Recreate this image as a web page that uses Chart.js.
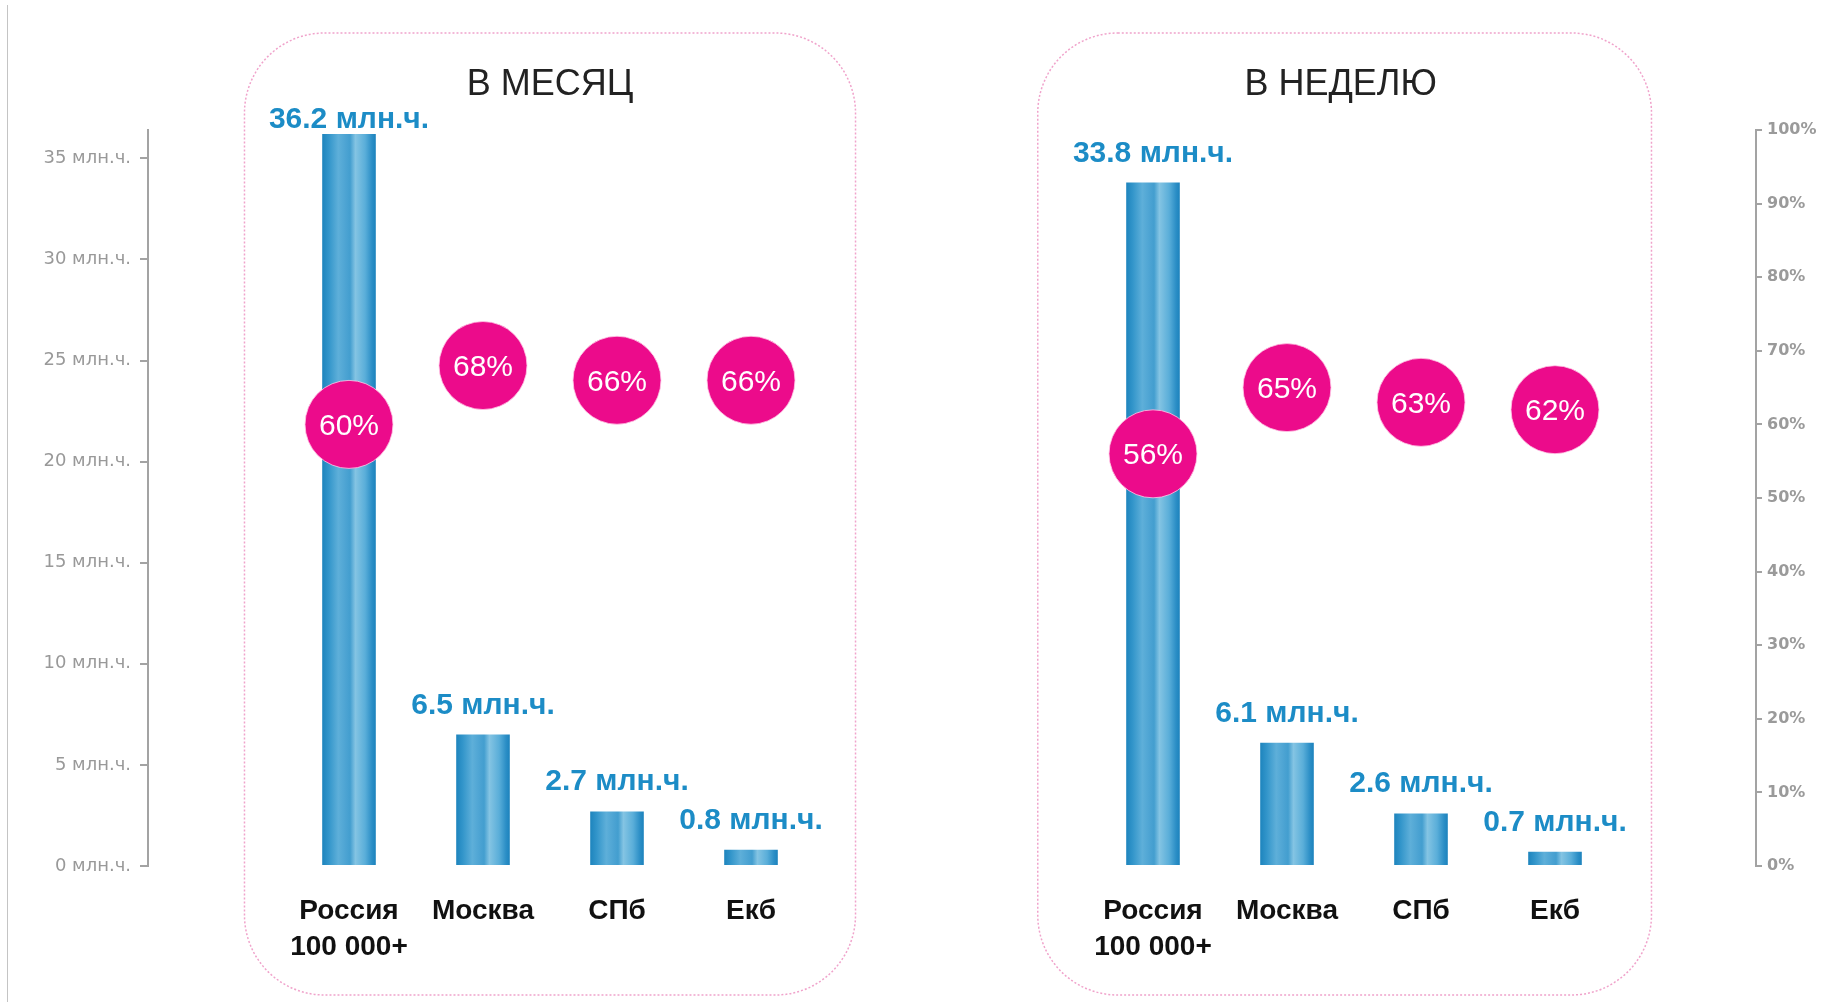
<!DOCTYPE html>
<html>
<head>
<meta charset="utf-8">
<style>
body { margin: 0; background: #fff; }
#wrap { position: relative; width: 1832px; height: 1002px; }
#edge { position: absolute; left: 7px; top: 5px; width: 1px; height: 997px; background: #c4c4c4; }
</style>
</head>
<body>
<script src="https://cdn.jsdelivr.net/npm/chart.js@4.4.0/dist/chart.umd.min.js"></script>
<div id="wrap"><canvas id="myChart"></canvas><div id="edge"></div></div>
<script>
const cities = [['Россия', '100 000+'], 'Москва', 'СПб', 'Екб'];
const panelTitles = ['В МЕСЯЦ', 'В НЕДЕЛЮ'];
const monthHours = [36.2, 6.5, 2.7, 0.8];
const weekHours = [33.8, 6.1, 2.6, 0.7];
const monthShare = [60, 68, 66, 66];
const weekShare = [56, 65, 63, 62];
const hourTicks = [0, 5, 10, 15, 20, 25, 30, 35];
const shareTicks = [0, 10, 20, 30, 40, 50, 60, 70, 80, 90, 100];
const unit = ' млн.ч.';

// одна общая ось x: пусто, 4 города (месяц), 2 пустых, 4 города (неделя), пусто
const labels = [''].concat(cities, ['', ''], cities, ['']);
const hours = [null].concat(monthHours, [null, null], weekHours, [null]);
const shares = [null].concat(monthShare, [null, null], weekShare, [null]);
// [первая категория, последняя, запас слева, запас справа] в долях ширины категории
const panelRanges = [[1, 4, 0.78, 0.78], [7, 10, 0.86, 0.72]];

function barFill(c) {
    const chart = c.chart;
    if (!chart.chartArea || c.dataIndex === undefined) return '#3197cc';
    const xs = chart.scales.x;
    const cx = xs.getPixelForValue(c.dataIndex);
    const half = xs.width / labels.length * 0.2;
    const g = chart.ctx.createLinearGradient(cx - half, 0, cx + half, 0);
    g.addColorStop(0, '#1d84bd');
    g.addColorStop(0.12, '#3295ca');
    g.addColorStop(0.3, '#5eafd9');
    g.addColorStop(0.46, '#4aa2d2');
    g.addColorStop(0.52, '#439ecf');
    g.addColorStop(0.62, '#84c4e3');
    g.addColorStop(0.8, '#5aaed9');
    g.addColorStop(0.93, '#2b8ec6');
    g.addColorStop(1, '#1c82bc');
    return g;
}

const panels = {
    id: 'panels',
    beforeDraw(chart) {
        const {ctx, chartArea, scales: {x}} = chart;
        const cw = x.width / labels.length;
        panelRanges.forEach(([a, b, padL, padR], k) => {
            const left = x.getPixelForValue(a) - cw * padL;
            const right = x.getPixelForValue(b) + cw * padR;
            const top = chartArea.top - 97;
            const bottom = chartArea.bottom + 129;
            ctx.save();
            ctx.beginPath();
            ctx.roundRect(left, top, right - left, bottom - top, 80);
            ctx.setLineDash([2, 2]);
            ctx.strokeStyle = '#f0a3cb';
            ctx.lineWidth = 1.5;
            ctx.stroke();
            ctx.setLineDash([]);
            ctx.font = '36px "Liberation Sans", Arial, sans-serif';
            ctx.fillStyle = '#222';
            ctx.textAlign = 'center';
            ctx.textBaseline = 'middle';
            ctx.fillText(panelTitles[k], (left + right) / 2 - (k ? 4 : 0), chartArea.top - 45);
            ctx.restore();
        });
    },
    afterDatasetsDraw(chart) {
        const {ctx, chartArea} = chart;
        ctx.save();
        ctx.textAlign = 'center';
        // подписи над столбцами
        ctx.font = 'bold 30px "Liberation Sans", Arial, sans-serif';
        ctx.fillStyle = '#1c8cc6';
        ctx.textBaseline = 'alphabetic';
        chart.getDatasetMeta(1).data.forEach((el, i) => {
            if (hours[i] == null) return;
            const y = Math.max(el.y - 21, chartArea.top - 2);
            ctx.fillText(hours[i] + unit, el.x, y);
        });
        // проценты в кружках
        ctx.font = '30px "Liberation Sans", Arial, sans-serif';
        ctx.fillStyle = '#fff';
        ctx.textBaseline = 'middle';
        chart.getDatasetMeta(0).data.forEach((el, i) => {
            if (shares[i] == null) return;
            ctx.fillText(shares[i] + '%', el.x, el.y + 2);
        });
        ctx.restore();
    }
};

const ctx = document.getElementById('myChart').getContext('2d');
const myChart = new Chart(ctx, {
    data: {
        labels: labels,
        datasets: [{
            type: 'line',
            label: 'Доля',
            data: shares,
            yAxisID: 'y2',
            showLine: false,
            pointRadius: 44,
            pointHoverRadius: 44,
            pointBackgroundColor: '#ec0b8b',
            pointBorderColor: 'rgba(255, 200, 230, 0.8)',
            pointBorderWidth: 1,
            order: 1
        }, {
            type: 'bar',
            label: 'Часы',
            data: hours,
            yAxisID: 'y',
            backgroundColor: barFill,
            barPercentage: 0.4,
            categoryPercentage: 1,
            order: 2
        }]
    },
    options: {
        responsive: true,
        maintainAspectRatio: false,
        animation: false,
        layout: { padding: { top: 130, left: 0, right: 0, bottom: 0 } },
        plugins: { legend: { display: false }, tooltip: { enabled: false } },
        scales: {
            x: {
                grid: { display: false, drawTicks: false },
                border: { display: false },
                ticks: {
                    padding: 27,
                    color: '#111',
                    maxRotation: 0,
                    autoSkip: false,
                    font: { family: '"Liberation Sans", Arial, sans-serif', size: 28, weight: 'bold', lineHeight: 1.3 }
                },
                afterFit(s) { s.height = 136; }
            },
            y: {
                position: 'left',
                min: 0,
                max: 36.4,
                afterBuildTicks(s) { s.ticks = hourTicks.map(v => ({ value: v })); },
                grid: { drawOnChartArea: false, tickLength: 8, color: '#a3a3a3', lineWidth: 2 },
                border: { color: '#a3a3a3', width: 2 },
                ticks: {
                    padding: 9,
                    color: '#999',
                    font: { family: '"DejaVu Sans", sans-serif', size: 18 },
                    callback: v => v + unit
                },
                afterFit(s) { s.width = 148; }
            },
            y2: {
                position: 'right',
                min: 0,
                max: 100,
                afterBuildTicks(s) { s.ticks = shareTicks.map(v => ({ value: v })); },
                grid: { drawOnChartArea: false, tickLength: 6, color: '#a3a3a3', lineWidth: 2 },
                border: { color: '#a3a3a3', width: 2 },
                ticks: {
                    padding: 5,
                    color: '#9a9a9a',
                    font: { family: '"DejaVu Sans", sans-serif', size: 16, weight: 'bold' },
                    callback: v => v + '%'
                },
                afterFit(s) { s.width = 76; }
            }
        }
    },
    plugins: [panels]
});
</script>
</body>
</html>
